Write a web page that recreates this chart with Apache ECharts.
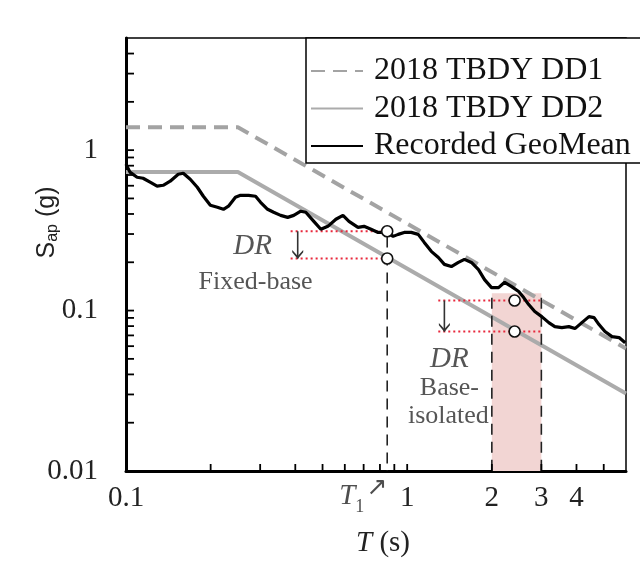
<!DOCTYPE html>
<html><head><meta charset="utf-8">
<script src="https://cdn.jsdelivr.net/npm/echarts@6/dist/echarts.min.js"></script>
<style>html,body{margin:0;padding:0;background:#fff}#c{width:640px;height:567px}</style>
</head><body><div id="c"></div>
<script>
// ---- data ----
const periods = [0.1, 0.1033, 0.1095, 0.115, 0.1218, 0.129, 0.1356, 0.1436, 0.1534, 0.1598,
  0.1692, 0.1793, 0.1884, 0.1995, 0.2113, 0.2221, 0.2314, 0.245, 0.2554, 0.2728,
  0.2889, 0.301, 0.3188, 0.335, 0.3548, 0.3758, 0.395, 0.4183, 0.4359, 0.4655,
  0.4931, 0.5223, 0.5579, 0.591, 0.6208, 0.6683, 0.7022, 0.7437, 0.788, 0.8414,
  0.8913, 0.9288, 0.9757, 1.0335, 1.0946, 1.15, 1.218, 1.291, 1.356, 1.436,
  1.521, 1.598, 1.692, 1.793, 1.884, 1.995, 2.113, 2.221, 2.352, 2.491,
  2.596, 2.705, 2.842, 3.01, 3.188, 3.35, 3.548, 3.758, 3.95, 4.18,
  4.43, 4.62, 4.81, 5.05, 5.35, 5.67, 5.96];
const recordedGeoMean = [0.818, 0.729, 0.678, 0.668, 0.631, 0.596, 0.604, 0.640, 0.708, 0.718,
  0.659, 0.587, 0.516, 0.453, 0.441, 0.428, 0.447, 0.508, 0.523, 0.523,
  0.516, 0.473, 0.428, 0.410, 0.392, 0.381, 0.392, 0.416, 0.410, 0.360,
  0.321, 0.335, 0.371, 0.392, 0.360, 0.330, 0.335, 0.321, 0.307, 0.307,
  0.290, 0.2985, 0.307, 0.307, 0.2985, 0.266, 0.234, 0.214, 0.194, 0.188,
  0.1995, 0.2085, 0.1995, 0.180, 0.156, 0.139, 0.139, 0.150, 0.141, 0.1315,
  0.1205, 0.109, 0.0986, 0.0917, 0.0841, 0.0794, 0.0783, 0.0794, 0.0772, 0.0841,
  0.0917, 0.0904, 0.0818, 0.074, 0.0688, 0.0679, 0.063];
const designPeriods = [0.1, 0.25, 6];
const dd1Values = [1.39, 1.39, 0.058];
const dd2Values = [0.73, 0.73, 0.0304];
const seriesNames = ['2018 TBDY DD1', '2018 TBDY DD2', 'Recorded GeoMean'];
const xTickLabels = [0.1, 1, 2, 3, 4];
const yTickLabels = [0.01, 0.1, 1];
const xTickMarks = [0.2, 0.3, 0.4, 0.5, 0.6, 0.7, 0.8, 0.9, 1, 2, 3, 4, 5];
const yTickMarks = [0.02, 0.03, 0.04, 0.05, 0.06, 0.07, 0.08, 0.09,
  0.1, 0.2, 0.3, 0.4, 0.5, 0.6, 0.7, 0.8, 0.9, 1, 2, 3, 4];
const xRange = [0.1, 6];
const yRange = [0.01, 5];
const T1 = 0.849;
const fixedMarkers = [0.312, 0.211];
const fixedLineStart = 0.385;
const fixedArrowT = 0.408;
const isoPeriod = 2.41;
const isoMarkers = [0.1155, 0.074];
const isoLineRange = [1.29, 3.0];
const isoArrowT = 1.356;
const isoBand = [2, 3];
const isoBandTop = 0.128;
const isoDashTop = 0.12;
const t1DashTop = 0.29;
const annotations = [
  {text: 'DR', t: 0.282, s: 0.251, kind: 'dr'},
  {text: 'Fixed-base', t: 0.289, s: 0.1496, kind: 'small'},
  {text: 'DR', t: 1.413, s: 0.0494, kind: 'dr'},
  {text: 'Base-', t: 1.413, s: 0.033, kind: 'small'},
  {text: 'isolated', t: 1.401, s: 0.0221, kind: 'small'}
];

// ---- chart ----
const SERIF = '"Liberation Serif", "Times New Roman", serif';
const SANS = '"Liberation Sans", Arial, sans-serif';
const chart = echarts.init(document.getElementById('c'));
const pairs = (xs, ys) => xs.map((x, i) => [x, ys[i]]);
const arrowHead = 'path://M0 0L5 6L10 0L10 2.2L5 9L0 2.2Z';

const annoData = annotations.map(a => ({
  value: [a.t, a.s],
  label: {
    formatter: a.text,
    fontFamily: SERIF,
    fontStyle: a.kind === 'dr' ? 'italic' : 'normal',
    fontSize: a.kind === 'dr' ? 29 : 26,
    color: '#2a2a2a'
  }
}));
annoData.push({
  value: [T1, yRange[0]],
  label: {
    formatter: '{t|T}{s|1}{a|↗}',
    offset: [-24, 25],
    rich: {
      t: {fontFamily: SERIF, fontStyle: 'italic', fontSize: 29, color: '#222'},
      s: {fontFamily: SERIF, fontSize: 18, color: '#222', verticalAlign: 'bottom', padding: [12, 0, 0, 0]},
      a: {fontFamily: '"DejaVu Sans", sans-serif', fontSize: 25, color: '#222', padding: [0, 0, 16, 2]}
    }
  }
});

const redDot = {color: '#e8283c', width: 2, type: [2, 3]};
const blackDash = {color: '#222', width: 1.6, type: [11, 7]};

// tick marks drawn through the axes' own scales (api.coord)
function tickRenderer(dx, dy) {
  return function (params, api) {
    const p = api.coord([api.value(0), api.value(1)]);
    return {
      type: 'line',
      shape: {x1: p[0], y1: p[1], x2: p[0] + dx, y2: p[1] + dy},
      style: {stroke: '#000', lineWidth: 1.8}
    };
  };
}

const option = {
  backgroundColor: '#fff',
  animation: false,
  grid: {left: 126, right: 14, top: 38, bottom: 96, show: true, borderColor: '#000', borderWidth: 1.5, backgroundColor: 'transparent'},
  legend: {
    data: seriesNames,
    orient: 'vertical',
    left: 306, top: 38,
    padding: [17, 24, 1, 4],
    itemGap: 5.5,
    itemWidth: 52, itemHeight: 14,
    backgroundColor: '#fff',
    borderColor: '#000', borderWidth: 1.5,
    itemStyle: {opacity: 0},
    textStyle: {fontFamily: SERIF, fontSize: 32, lineHeight: 32, color: '#111', padding: [0, 0, 0, 6]}
  },
  xAxis: {
    type: 'log', logBase: 10, min: xRange[0], max: xRange[1],
    axisLine: {show: true, lineStyle: {color: '#000', width: 3}},
    axisTick: {show: false},
    minorTick: {show: false},
    splitLine: {show: false}, minorSplitLine: {show: false},
    axisLabel: {customValues: xTickLabels, margin: 13, color: '#222', fontSize: 29, fontFamily: SERIF, formatter: v => String(v)},
    name: '{i|T} (s)', nameLocation: 'middle', nameGap: 58, nameMoveOverlap: false,
    nameTextStyle: {fontFamily: SERIF, fontSize: 29, color: '#222', padding: [0, 0, 0, 14],
      rich: {i: {fontFamily: SERIF, fontStyle: 'italic', fontSize: 29, color: '#222'}}}
  },
  yAxis: {
    type: 'log', logBase: 10, min: yRange[0], max: yRange[1],
    axisLine: {show: true, lineStyle: {color: '#000', width: 3}},
    axisTick: {show: false},
    minorTick: {show: false},
    splitLine: {show: false}, minorSplitLine: {show: false},
    axisLabel: {customValues: yTickLabels, margin: 28, color: '#222', fontSize: 29, fontFamily: SERIF, formatter: v => String(v)},
    name: '{s|S}{sub|ap}{s| (g)}', nameLocation: 'middle', nameGap: 65, nameRotate: 90, nameMoveOverlap: false,
    nameTextStyle: {padding: [0, 0, 0, 64], rich: {
      s: {fontFamily: SANS, fontSize: 25, color: '#222'},
      sub: {fontFamily: SANS, fontSize: 16, color: '#222', verticalAlign: 'bottom', padding: [11, 0, 0, 0]}
    }}
  },
  series: [
    {
      name: 'band', type: 'line', data: [], z: 1, silent: true,
      markArea: {silent: true, itemStyle: {color: '#f2d5d3'},
        data: [[{coord: [isoBand[0], yRange[0]]}, {coord: [isoBand[1], isoBandTop]}]]}
    },
    {
      name: 'xTicks', type: 'custom', z: 7, silent: true, clip: false,
      renderItem: tickRenderer(0, -7),
      data: xTickMarks.map(v => [v, yRange[0]])
    },
    {
      name: 'yTicks', type: 'custom', z: 7, silent: true, clip: false,
      renderItem: tickRenderer(8, 0),
      data: yTickMarks.map(v => [xRange[0], v])
    },
    {
      name: seriesNames[0], type: 'line', data: pairs(designPeriods, dd1Values), symbol: 'none', z: 3,
      lineStyle: {color: '#a3a3a3', width: 4, type: [14, 8]}, itemStyle: {color: '#a3a3a3'}
    },
    {
      name: seriesNames[1], type: 'line', data: pairs(designPeriods, dd2Values), symbol: 'none', z: 3,
      lineStyle: {color: '#ababab', width: 4}, itemStyle: {color: '#ababab'}
    },
    {name: 'fixedUpper', type: 'line', symbol: 'none', z: 4, lineStyle: redDot, silent: true,
      data: [[fixedLineStart, fixedMarkers[0]], [T1, fixedMarkers[0]]]},
    {name: 'fixedLower', type: 'line', symbol: 'none', z: 4, lineStyle: redDot, silent: true,
      data: [[fixedLineStart, fixedMarkers[1]], [T1, fixedMarkers[1]]]},
    {name: 'isoUpper', type: 'line', symbol: 'none', z: 4, lineStyle: redDot, silent: true,
      data: [[isoLineRange[0], isoMarkers[0]], [isoLineRange[1], isoMarkers[0]]]},
    {name: 'isoLower', type: 'line', symbol: 'none', z: 4, lineStyle: redDot, silent: true,
      data: [[isoLineRange[0], isoMarkers[1]], [isoLineRange[1], isoMarkers[1]]]},
    {name: 'T1dash', type: 'line', symbol: 'none', z: 4, lineStyle: blackDash, silent: true,
      data: [[T1, t1DashTop], [T1, yRange[0]]]},
    {name: 'dash2', type: 'line', symbol: 'none', z: 4, lineStyle: blackDash, silent: true,
      data: [[isoBand[0], isoDashTop], [isoBand[0], yRange[0]]]},
    {name: 'dash3', type: 'line', symbol: 'none', z: 4, lineStyle: blackDash, silent: true,
      data: [[isoBand[1], isoDashTop], [isoBand[1], yRange[0]]]},
    {name: 'arrowFixed', type: 'line', z: 5, silent: true, lineStyle: {color: '#333', width: 1.6},
      itemStyle: {color: '#333'},
      data: [{value: [fixedArrowT, fixedMarkers[0]], symbol: 'none'},
             {value: [fixedArrowT, fixedMarkers[1]], symbol: arrowHead, symbolSize: [11, 9], symbolOffset: [0, -4]}]},
    {name: 'arrowIso', type: 'line', z: 5, silent: true, lineStyle: {color: '#333', width: 1.6},
      itemStyle: {color: '#333'},
      data: [{value: [isoArrowT, isoMarkers[0]], symbol: 'none'},
             {value: [isoArrowT, isoMarkers[1]], symbol: arrowHead, symbolSize: [11, 9], symbolOffset: [0, -4]}]},
    {
      name: seriesNames[2], type: 'line', data: pairs(periods, recordedGeoMean), symbol: 'none', z: 6,
      lineStyle: {color: '#000', width: 3.2}, itemStyle: {color: '#000'}
    },
    {
      name: 'markers', type: 'scatter', z: 8, silent: true, symbol: 'circle', symbolSize: 11,
      itemStyle: {color: '#fff', borderColor: '#111', borderWidth: 1.6, opacity: 1},
      data: [[T1, fixedMarkers[0]], [T1, fixedMarkers[1]], [isoPeriod, isoMarkers[0]], [isoPeriod, isoMarkers[1]]]
    },
    {
      name: 'annotations', type: 'scatter', z: 9, silent: true, symbolSize: 0, clip: false,
      label: {show: true, position: 'inside'},
      data: annoData
    }
  ]
};
chart.setOption(option);
</script></body></html>
